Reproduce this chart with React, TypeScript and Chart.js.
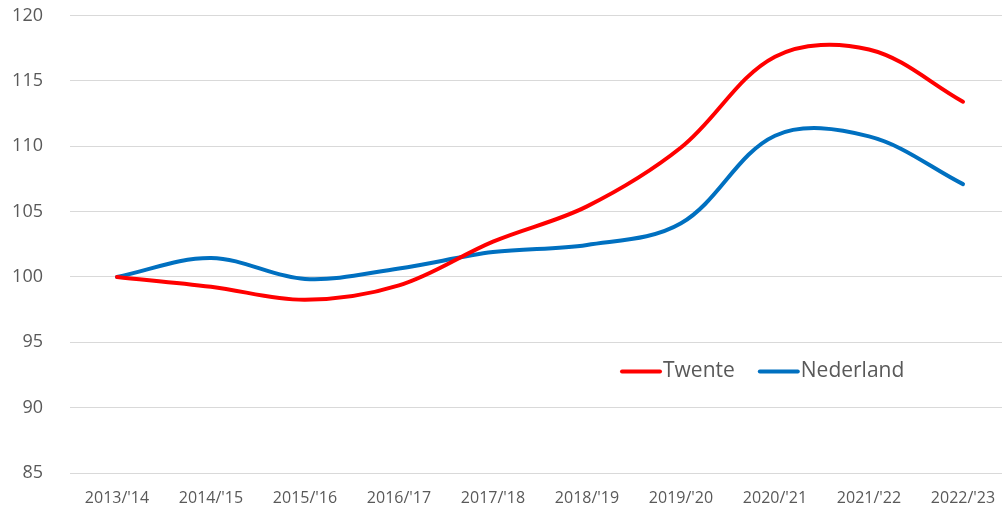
import React, { useEffect, useRef } from "react";
import { Chart, registerables } from "chart.js";

Chart.register(...registerables);

const categories = ["2013/'14", "2014/'15", "2015/'16", "2016/'17", "2017/'18", "2018/'19", "2019/'20", "2020/'21", "2021/'22", "2022/'23"];
const twente = [100, 99.25, 98.25, 99.35, 102.7, 105.4, 109.9, 116.85, 117.4, 113.4];
const nederland = [100, 101.45, 99.85, 100.65, 101.9, 102.45, 104.1, 110.8, 110.75, 107.1];
const seriesNames = ["Twente", "Nederland"];
const seriesColors = ["#FF0000", "#0070C0"];

const FONT = "'Open Sans', 'Noto Sans', sans-serif";
const TEXT = "#595959";

const legendPlugin = {
  id: "customLegend",
  afterDraw(chart: any) {
    const ctx = chart.ctx;
    const area = chart.chartArea;
    ctx.save();
    ctx.font = `21px ${FONT}`;
    ctx.textBaseline = "middle";
    const y = area.top + (area.bottom - area.top) * 0.778;
    let x = 620;
    chart.data.datasets.forEach((ds: any) => {
      ctx.strokeStyle = ds.borderColor;
      ctx.lineWidth = 4;
      ctx.lineCap = "round";
      ctx.beginPath();
      ctx.moveTo(x + 2, y);
      ctx.lineTo(x + 40, y);
      ctx.stroke();
      ctx.fillStyle = TEXT;
      ctx.fillText(ds.label, x + 43, y);
      x += 43 + ctx.measureText(ds.label).width + 23;
    });
    ctx.restore();
  },
};

export default function App() {
  const ref = useRef<HTMLCanvasElement | null>(null);
  useEffect(() => {
    if (!ref.current) return;
    const chart = new Chart(ref.current, {
      type: "line",
      data: {
        labels: categories,
        datasets: [twente, nederland].map((d, i) => ({
          label: seriesNames[i],
          data: d,
          borderColor: seriesColors[i],
          backgroundColor: seriesColors[i],
          borderWidth: 4,
          pointRadius: 0,
          tension: 0.35,
          borderCapStyle: "round",
          fill: false,
        })),
      },
      options: {
        animation: false,
        responsive: false,
        maintainAspectRatio: false,
        layout: { padding: { top: 15.5, left: 0, right: 0, bottom: 0 } },
        plugins: { legend: { display: false }, tooltip: { enabled: false } },
        scales: {
          x: {
            offset: true,
            grid: { display: false, drawTicks: false },
            border: { display: false },
            ticks: { color: TEXT, font: { family: FONT, size: 16 }, padding: 16, maxRotation: 0, autoSkip: false },
            afterFit: (s: any) => { s.height = 38; s.paddingLeft = 0; s.paddingRight = 0; },
          },
          y: {
            min: 85,
            max: 120,
            grid: { color: "#d9d9d9", lineWidth: 1, drawTicks: false },
            border: { display: false },
            ticks: { stepSize: 5, color: TEXT, font: { family: FONT, size: 18 }, padding: 27 },
            afterFit: (s: any) => { s.width = 70; s.paddingTop = 0; s.paddingBottom = 0; },
          },
        },
      },
      plugins: [legendPlugin],
    });
    return () => chart.destroy();
  }, []);
  return (
    <div style={{ position: "fixed", left: 0, top: 0, width: 1002, height: 511, overflow: "hidden", background: "#fff" }}>
      <canvas ref={ref} width={1010} height={511} style={{ display: "block" }} />
    </div>
  );
}
